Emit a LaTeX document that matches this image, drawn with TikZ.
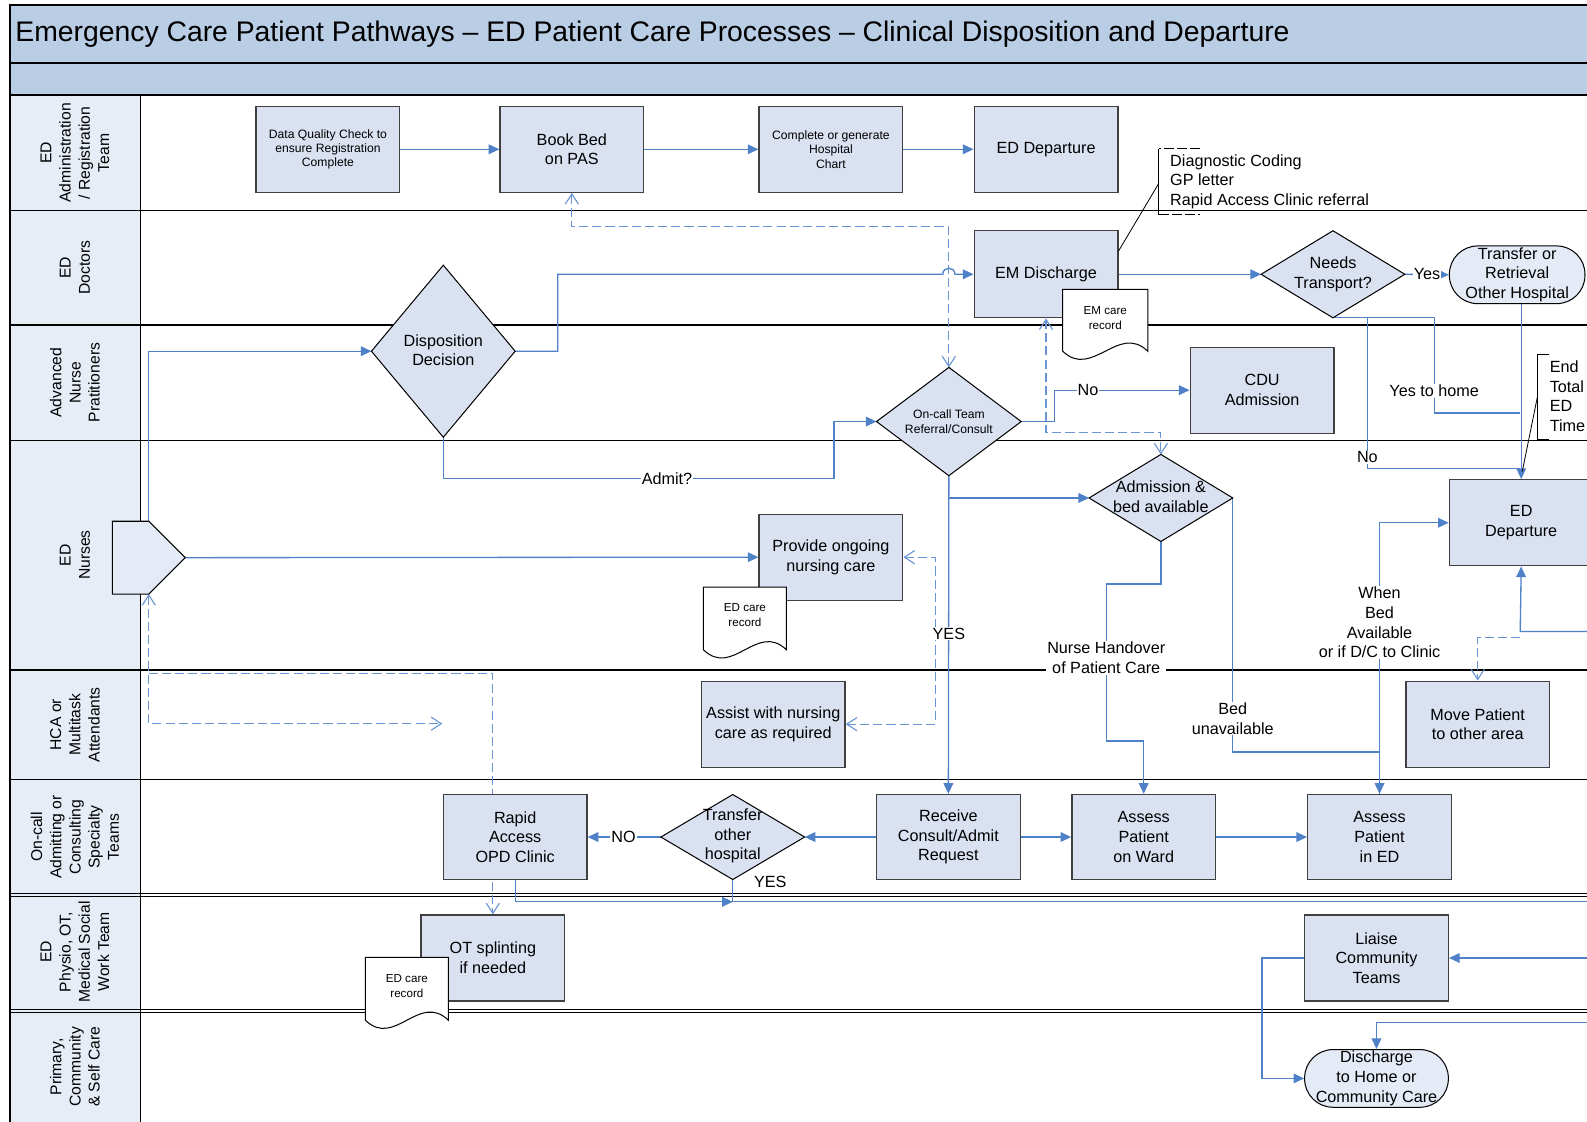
\documentclass[tikz,border=0pt]{standalone}
\usepackage{fontspec}
\setmainfont{Liberation Sans}
\usetikzlibrary{arrows.meta,shapes.geometric}
\definecolor{titleblue}{RGB}{185,205,229}
\definecolor{hdrblue}{RGB}{230,237,247}
\definecolor{boxfill}{RGB}{218,225,241}
\definecolor{lightfill}{RGB}{228,235,246}
\definecolor{conn}{RGB}{79,129,200}
\definecolor{dconn}{RGB}{105,148,212}
\definecolor{edgegray}{RGB}{64,64,64}
\newcommand\fbig{\fontsize{16}{19.5}\selectfont}
\newcommand\fsmall{\fontsize{12}{14.2}\selectfont}
\newcommand\fdoc{\fontsize{11.5}{14.5}\selectfont}
\newcommand\flane{\fontsize{15.5}{19}\selectfont}
\newcommand\ftitle{\fontsize{28}{34}\selectfont}
\pgfdeclarelayer{lanes}
\pgfdeclarelayer{wires}
\pgfsetlayers{lanes,wires,main}
\tikzset{
  ft/.tip={Triangle[length=10.5pt,width=9.5pt]},
  ot/.tip={Straight Barb[length=10pt,width=13pt]},
  proc/.style={rectangle, draw=edgegray, line width=1.3pt, fill=boxfill, minimum width=142, minimum height=85, inner sep=0, align=center, font=\fbig},
  dec/.style={diamond, draw=black, line width=1pt, fill=boxfill, inner sep=0, outer sep=0},
  dtext/.style={align=center, inner sep=0, font=\fbig},
  term/.style={rectangle, rounded corners=28pt, draw=black, line width=1pt, fill=lightfill, minimum height=57, inner sep=0, align=center, font=\fbig},
  flow/.style={draw=conn, line width=1.3pt, -ft},
  plain/.style={draw=conn, line width=1.3pt},
  dflow/.style={draw=dconn, line width=1.1pt, dash pattern=on 9pt off 4pt},
  lbl/.style={fill=white, inner sep=1pt, font=\fbig, align=center},
  laneline/.style={draw=black, line width=1.3pt},
  hdr/.style={fill=hdrblue, draw=black, line width=1.3pt},
  lanetext/.style={rotate=90, align=center, font=\flane, inner sep=0},
  docpath/.style={draw=black, line width=1pt, fill=white},
  doctext/.style={align=center, inner sep=0, font=\fdoc},
  anno/.style={draw=black, line width=0.8pt},
  annodash/.style={draw=black, line width=0.8pt, dash pattern=on 10pt off 3pt},
  annotext/.style={align=left, inner sep=0, font=\fbig, anchor=west}
}
\begin{document}
\begin{tikzpicture}[x=1pt,y=-1pt]
\useasboundingbox (0,0) rectangle (1568,1108);
\clip (0,0) rectangle (1568,1108);
% ---------- frame, title, lanes
\begin{pgfonlayer}{lanes}
\fill[white] (0,0) rectangle (1568,1108);
\draw[fill=titleblue, draw=black, line width=1.5pt] (10,5) rectangle (1600,62);
\draw[fill=titleblue, draw=black, line width=1.5pt] (10,62) rectangle (1600,94);
\draw[hdr] (10,94) rectangle (139,1130);
\foreach \yy in {208,321,435,662,770} {\draw[laneline] (10,\yy) -- (1600,\yy);}
\foreach \yy in {882.5,886,997,1000.5} {\draw[draw=black, line width=1pt] (10,\yy) -- (1600,\yy);}
\end{pgfonlayer}
\node[anchor=west, inner sep=0, font=\ftitle] (title) at (15,33.5) {Emergency Care Patient Pathways – ED Patient Care Processes – Clinical Disposition and Departure};
\node[lanetext] (l1) at (74,151) {ED\\Administration\\/ Registration\\Team};
\node[lanetext] (l2) at (74,264.5) {ED\\Doctors};
\node[lanetext] (l3) at (74,378) {Advanced\\Nurse\\Pratitioners};
\node[lanetext] (l4) at (74,548.5) {ED\\Nurses};
\node[lanetext] (l5) at (74,716) {HCA or\\Multitask\\Attendants};
\node[lanetext] (l6) at (74,827) {On-call\\Admitting or\\Consulting\\Specialty\\Teams};
\node[lanetext] (l7) at (74,940.5) {ED\\Physio, OT,\\Medical Social\\Work Team};
\node[lanetext] (l8) at (74,1054) {Primary,\\Community\\\& Self Care};
% ---------- named coordinates
\coordinate (st) at (183,551);
\coordinate (sttop) at (147,515);
\coordinate (stbot) at (147,587);
\coordinate (hcaend) at (437,715);
\coordinate (otstart) at (147,665);
\coordinate (ycall) at (937.5,492);
\coordinate (jNo) at (1502,463);
\coordinate (jHome) at (1502,408);
\coordinate (fromR1) at (1600,624);
\coordinate (dashstart) at (1502,630);
\coordinate (jYes) at (724,891);
\coordinate (offR2) at (1600,891);
\coordinate (fromR3) at (1600,946.5);
\coordinate (fromR4) at (1600,1010);
% ---------- shapes
\node[proc, font=\fsmall] (dq) at (324,147.5) {Data Quality Check to\\ensure Registration\\Complete};
\node[proc] (book) at (565,147.5) {Book Bed\\on PAS};
\node[proc, font=\fsmall] (chart) at (821,147.5) {Complete or generate\\Hospital\\Chart};
\node[proc] (edd1) at (1033.5,147.5) {ED Departure};
\node[proc, minimum height=86] (emd) at (1033.5,271) {EM Discharge};
\node[proc] (cdu) at (1247,385.5) {CDU\\Admission};
\node[proc] (edd2) at (1503,516.5) {ED\\Departure};
\node[proc] (prov) at (821,550.5) {Provide ongoing\\nursing care};
\node[proc] (assist) at (764,715.5) {Assist with nursing\\care as required};
\node[proc] (move) at (1460,715.5) {Move Patient\\to other area};
\node[proc, minimum height=84] (rapid) at (509,827) {Rapid\\Access\\OPD Clinic};
\node[proc, minimum height=84] (recv) at (937,827) {Receive\\Consult/Admit\\Request};
\node[proc, minimum height=84] (ward) at (1130,827) {Assess\\Patient\\on Ward};
\node[proc, minimum height=84] (aed) at (1363,827) {Assess\\Patient\\in ED};
\node[proc] (ot) at (487,946.5) {OT splinting\\if needed};
\node[proc] (liaise) at (1360,946.5) {Liaise\\Community\\Teams};
\node[dec, minimum width=142, minimum height=170] (disp) at (438,347) {};
\node[dtext] (dispT) at (438,346) {Disposition\\Decision};
\node[dec, minimum width=143, minimum height=107] (oncall) at (937.5,416.5) {};
\node[dtext, font=\fsmall] (oncallT) at (937.5,416.5) {On-call Team\\Referral/Consult};
\node[dec, minimum width=142, minimum height=86] (needs) at (1317,271) {};
\node[dtext] (needsT) at (1317,271) {Needs\\Transport?};
\node[dec, minimum width=142, minimum height=86] (adm) at (1147,492) {};
\node[dtext] (admT) at (1147,491) {Admission \&\\bed available};
\node[dec, minimum width=142, minimum height=84] (trans) at (724,827) {};
\node[dtext] (transT) at (724,826) {Transfer\\other\\hospital};
\node[term, minimum width=134] (transfer) at (1499,271.5) {Transfer or\\Retrieval\\Other Hospital};
\node[term, minimum width=142] (disch) at (1360,1065.5) {Discharge\\to Home or\\Community Care};
% start shape
\draw[draw=black, line width=1pt, fill=lightfill] (111,515) -- (sttop) -- (st) -- (stbot) -- (111,587) -- cycle;
% documents
\draw[docpath] (1050,347) -- (1050,286) -- (1134,286) -- (1134,347) .. controls (1105,319) and (1079,375) .. (1050,347) -- cycle;
\node[doctext] (emrec) at (1092,314) {EM care\\record};
\draw[docpath] (695,642) -- (695,580) -- (777,580) -- (777,642) .. controls (748,614) and (724,670) .. (695,642) -- cycle;
\node[doctext] (edrec1) at (736,608) {ED care\\record};
\draw[docpath] (361,1008) -- (361,946) -- (443,946) -- (443,1008) .. controls (414,980) and (390,1036) .. (361,1008) -- cycle;
\node[doctext] (edrec2) at (402,974) {ED care\\record};
% annotations
\node[annotext] (ann1) at (1156,179.5) {Diagnostic Coding\\GP letter\\Rapid Access Clinic referral};
\coordinate (br1) at (1145,181);
\draw[anno] (1145,147) -- (1145,212);
\draw[annodash] (1186,147) -- (1145,147);
\draw[annodash] (1145,212) -- (1186,212);
\draw[anno] (emd.east |- 0,248) -- (br1);
\node[annotext] (ann2) at (1531,391.5) {End\\Total\\ED\\Time};
\coordinate (br2) at (1519,392);
\draw[anno] (1530,350) -- (1519,350) -- (1519,434) -- (1530,434);
\draw[anno] (br2) -- (1504,466);
% ---------- connectors
\begin{pgfonlayer}{wires}
\draw[flow] (dq.east) -- (book.west);
\draw[flow] (book.east) -- (chart.west);
\draw[flow] (chart.east) -- (edd1.west);
\draw[dflow, ot-ot] (book.south) -- (565,224) -- (937.5,224) -- (oncall.north);
\draw[plain, -ft] (disp.east) -- (551,347) -- (551,271) -- (931.5,271) .. controls (931.5,263) and (943.5,263) .. (943.5,271) -- (emd.west);
\draw[flow] (emd.east) -- (needs.west);
\draw[flow] (needs.east) -- (transfer.west);
\draw[dflow, ot-ot] (emd.south) -- (1033.5,427) -- (1147,427) -- (adm.north);
\draw[plain, -ft] (sttop) -- (147,347) -- (disp.west);
\draw[flow] (st) -- (prov.west);
\draw[dflow, ot-ot] (stbot) -- (147,715) -- (hcaend);
\draw[dflow, -ot] (otstart) -- (487,665) -- (ot.north);
\draw[plain, -ft] (disp.south) -- (438,473) -- (824,473) -- (824,416.5) -- (oncall.west);
\draw[plain, -ft] (oncall.east) -- (1042,416.5) -- (1042,385.5) -- (cdu.west);
\draw[plain, -ft] (oncall.south) -- (recv.north);
\draw[plain, -ft] (ycall) -- (adm.west);
\draw[dflow, ot-ot] (prov.east) -- (924,550.5) -- (924,715.5) -- (assist.east);
\draw[plain, -ft] (adm.south) -- (1147,577) -- (1093,577) -- (1093,732) -- (1130,732) -- (ward.north);
\draw[plain, -ft] (adm.east) -- (1218,743) -- (1363,743) -- (aed.north);
\draw[plain, -ft] (aed.north) -- (1363,516.5) -- (edd2.west);
\draw[plain] (needs.south) -- (1351,314) -- (1351,463) -- (jNo);
\draw[plain] (needs.south) -- (1417,314) -- (1417,408) -- (jHome);
\draw[plain, -ft] (edd2.north |- transfer.south) -- (edd2.north);
\draw[plain, -ft] (fromR1) -- (1502,624) -- (edd2.south);
\draw[dflow, -ot] (dashstart) -- (1460,630) -- (move.north);
\draw[flow] (recv.west) -- (trans.east);
\draw[flow] (trans.west) -- (rapid.east);
\draw[flow] (recv.east) -- (ward.west);
\draw[flow] (ward.east) -- (aed.west);
\draw[plain, -ft] (rapid.south) -- (509,891) -- (jYes);
\draw[plain] (trans.south) -- (jYes) -- (offR2);
\draw[plain, -ft] (fromR3) -- (liaise.east);
\draw[plain, -ft] (liaise.west) -- (1247,946.5) -- (1247,1065.5) -- (disch.west);
\draw[plain, -ft] (fromR4) -- (1360,1010) -- (disch.north);
\end{pgfonlayer}
% ---------- connector labels
\node[lbl] (lAdmit) at (659,473) {Admit?};
\node[lbl] (lNo1) at (1075,385.5) {No};
\node[lbl] (lYes1) at (937.5,626) {YES};
\node[lbl] (lHand) at (1093,650) {Nurse Handover\\of Patient Care};
\node[lbl] (lBed) at (1218,710) {Bed\\unavailable};
\node[lbl] (lWhen) at (1363,615) {When\\Bed\\Available\\or if D/C to Clinic};
\node[lbl] (lHome) at (1417,386) {Yes to home};
\node[lbl] (lNo2) at (1351,452) {No};
\node[lbl, inner sep=0.5pt] (lYes2) at (1410,271) {Yes};
\node[lbl] (lNO3) at (616,827) {NO};
\node[font=\fbig, inner sep=0] (lYES3) at (761,871) {YES};
\end{tikzpicture}
\end{document}
